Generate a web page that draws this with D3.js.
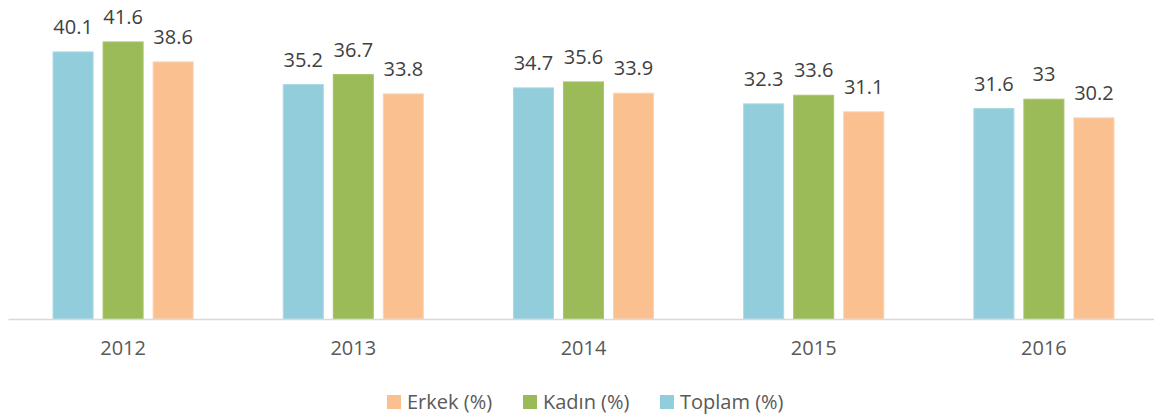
<!DOCTYPE html>
<html>
<head>
<meta charset="utf-8">
<script src="https://cdn.jsdelivr.net/npm/d3@7"></script>
<style>
  body { margin: 0; background: #fff; }
  text { font-family: "Open Sans", sans-serif; }
</style>
</head>
<body>
<script>
var w = 1154;
var h = 418;

// data
var years = ["2012", "2013", "2014", "2015", "2016"];
var series = ["Toplam (%)", "Kadın (%)", "Erkek (%)"];
var toplam = [40.1, 35.2, 34.7, 32.3, 31.6];
var kadin = [41.6, 36.7, 35.6, 33.6, 33];
var erkek = [38.6, 33.8, 33.9, 31.1, 30.2];
var legendOrder = ["Erkek (%)", "Kadın (%)", "Toplam (%)"];

var values = [toplam, kadin, erkek];
var colors = ["#92CDDC", "#9BBB59", "#FAC090"];
var strokes = ["#a9d8e4", "#a8c46b", "#fcd2b0"];

var svg = d3.select("body").append("svg")
    .attr("width", w)
    .attr("height", h);

var baseY = 319;

var x0 = d3.scaleBand()
    .domain(years)
    .range([8, 1159])
    .paddingInner(0.348)
    .paddingOuter(0.174);

var x1 = d3.scaleBand()
    .domain(d3.range(series.length))
    .range([0, x0.bandwidth()])
    .paddingInner(0.2)
    .paddingOuter(0.1);

var y = d3.scaleLinear()
    .domain([0, 45])
    .range([baseY, baseY - 45 * 6.66]);

// bars
var groups = svg.append("g").selectAll("g")
    .data(years)
    .enter()
    .append("g")
    .attr("transform", function(d) { return "translate(" + x0(d) + ",0)"; });

groups.selectAll("rect")
    .data(function(d, i) {
        return values.map(function(v, s) { return {s: s, v: v[i]}; });
    })
    .enter()
    .append("rect")
    .attr("x", function(d) { return x1(d.s); })
    .attr("y", function(d) { return y(d.v); })
    .attr("width", x1.bandwidth())
    .attr("height", function(d) { return baseY - y(d.v); })
    .attr("fill", function(d) { return colors[d.s]; })
    .attr("stroke", function(d) { return strokes[d.s]; })
    .attr("stroke-width", 1);

// value labels
groups.selectAll("text")
    .data(function(d, i) {
        return values.map(function(v, s) { return {s: s, v: v[i]}; });
    })
    .enter()
    .append("text")
    .attr("x", function(d) { return x1(d.s) + x1.bandwidth() / 2; })
    .attr("y", function(d) { return y(d.v) - 18; })
    .attr("text-anchor", "middle")
    .attr("font-size", "20px")
    .attr("fill", "#404040")
    .text(function(d) { return d.v; });

// x axis
var xAxis = d3.axisBottom(x0).tickSize(0).tickPadding(22);
var gx = svg.append("g")
    .attr("transform", "translate(0," + baseY + ")")
    .call(xAxis);
gx.select(".domain").attr("stroke", "#d9d9d9").attr("stroke-width", 1.5);
gx.selectAll("text")
    .attr("font-family", "Open Sans, sans-serif")
    .attr("font-size", "20px")
    .attr("fill", "#595959");

// legend
var legendX = [387, 523, 660];
var legend = svg.append("g")
    .selectAll("g")
    .data(legendOrder)
    .enter()
    .append("g")
    .attr("transform", function(d, i) { return "translate(" + legendX[i] + ",395)"; });

legend.append("rect")
    .attr("width", 14)
    .attr("height", 14)
    .attr("fill", function(d) { return colors[series.indexOf(d)]; });

legend.append("text")
    .attr("x", 20)
    .attr("y", 14)
    .attr("font-size", "20px")
    .attr("fill", "#595959")
    .text(function(d) { return d; });
</script>
</body>
</html>
